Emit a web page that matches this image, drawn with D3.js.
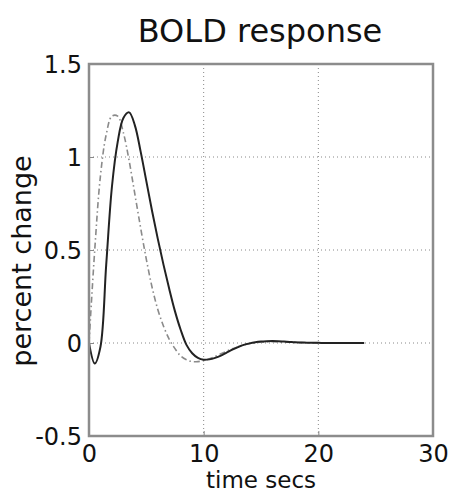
<!DOCTYPE html>
<html>
<head>
<meta charset="utf-8">
<script src="https://cdn.jsdelivr.net/npm/d3@7"></script>
<style>
  html, body { margin: 0; padding: 0; background: #fff; }
  svg { display: block; }
  text { font-family: "DejaVu Sans", sans-serif; fill: #111; }
</style>
</head>
<body>
<svg id="chart" width="451" height="492"></svg>
<script>
// Sample times (s)
const time = [0,0.5,1,1.5,2,2.5,3,3.5,4,4.5,5,5.5,6,6.5,7,7.5,8,8.5,9,9.5,10,10.5,11,11.5,12,12.5,13,13.5,14,14.5,15,15.5,16,16.5,17,17.5,18,18.5,19,19.5,20,20.5,21,21.5,22,22.5,23,23.5,24];

// Measured response with initial dip (solid)
const boldMeasured = [0,-0.11,-0.02,0.42,0.84,1.08,1.21,1.24,1.17,1.03,0.87,0.71,0.56,0.42,0.29,0.17,0.07,-0.01,-0.055,-0.08,-0.09,-0.088,-0.08,-0.068,-0.052,-0.036,-0.022,-0.01,-0.002,0.004,0.008,0.01,0.011,0.01,0.008,0.006,0.004,0.003,0.002,0.001,0.001,0,0,0,0,0,0,0,0];

// Faster model response (dash-dot)
const boldModel = [0,0.5,0.9,1.12,1.22,1.22,1.13,0.98,0.8,0.62,0.45,0.3,0.18,0.09,0.02,-0.03,-0.07,-0.09,-0.1,-0.1,-0.095,-0.085,-0.072,-0.058,-0.044,-0.031,-0.02,-0.011,-0.004,0.001,0.005,0.007,0.007,0.006,0.005,0.004,0.003,0.002,0.001,0.001,0,0,0,0,0,0,0,0,0];

const xTicks = [0, 10, 20, 30];
const yTicks = [-0.5, 0, 0.5, 1, 1.5];

const svg = d3.select("#chart");
const plotLeft = 89, plotRight = 433, plotTop = 64, plotBottom = 436;

const x = d3.scaleLinear().domain([0, 30]).range([plotLeft, plotRight]);
const y = d3.scaleLinear().domain([-0.5, 1.5]).range([plotBottom, plotTop]);

// Dotted grid
const grid = svg.append("g");
grid.selectAll("line.gx").data(xTicks.slice(1, -1)).join("line")
  .attr("x1", d => x(d)).attr("x2", d => x(d))
  .attr("y1", plotTop).attr("y2", plotBottom)
  .attr("stroke", "#888").attr("stroke-width", 1).attr("stroke-dasharray", "1,3");
grid.selectAll("line.gy").data(yTicks.slice(1, -1)).join("line")
  .attr("x1", plotLeft).attr("x2", plotRight)
  .attr("y1", d => y(d)).attr("y2", d => y(d))
  .attr("stroke", "#888").attr("stroke-width", 1).attr("stroke-dasharray", "1,3");

// Curves
const line = d3.line().x((d, i) => x(time[i])).y(d => y(d)).curve(d3.curveCatmullRom);

svg.append("path").datum(boldModel)
  .attr("d", line).attr("fill", "none")
  .attr("stroke", "#8a8a8a").attr("stroke-width", 1.6)
  .attr("stroke-dasharray", "6,3,1.5,3");

svg.append("path").datum(boldMeasured)
  .attr("d", line).attr("fill", "none")
  .attr("stroke", "#222").attr("stroke-width", 2);

// Axes box
const fmt = d => String(d).replace("\u2212", "-");
const xAxis = d3.axisBottom(x).tickValues(xTicks).tickFormat(fmt).tickSize(-5).tickPadding(9);
const yAxis = d3.axisLeft(y).tickValues(yTicks).tickFormat(fmt).tickSize(-5).tickPadding(7);

const gx = svg.append("g").attr("transform", `translate(0,${plotBottom})`).call(xAxis);
const gy = svg.append("g").attr("transform", `translate(${plotLeft},0)`).call(yAxis);
[gx, gy].forEach(g => {
  g.select(".domain").remove();
  g.selectAll(".tick line").attr("stroke", "#888").attr("stroke-width", 1);
  g.selectAll(".tick text").attr("font-size", 24).attr("font-family", "DejaVu Sans, sans-serif").attr("fill", "#111");
});
gy.selectAll(".tick text").attr("dy", "0.36em");
gx.selectAll(".tick text").attr("dy", "0.72em");

svg.append("rect")
  .attr("x", plotLeft).attr("y", plotTop).attr("width", plotRight - plotLeft).attr("height", plotBottom - plotTop)
  .attr("fill", "none").attr("stroke", "#8c8c8c").attr("stroke-width", 2.5);

// Titles
svg.append("text").attr("x", 260).attr("y", 42).attr("text-anchor", "middle")
  .attr("font-size", 32).text("BOLD response");
svg.append("text").attr("x", 261).attr("y", 488).attr("text-anchor", "middle")
  .attr("font-size", 23).text("time secs");
svg.append("text").attr("transform", "translate(31,261) rotate(-90)").attr("text-anchor", "middle")
  .attr("font-size", 27).text("percent change");
</script>
</body>
</html>
